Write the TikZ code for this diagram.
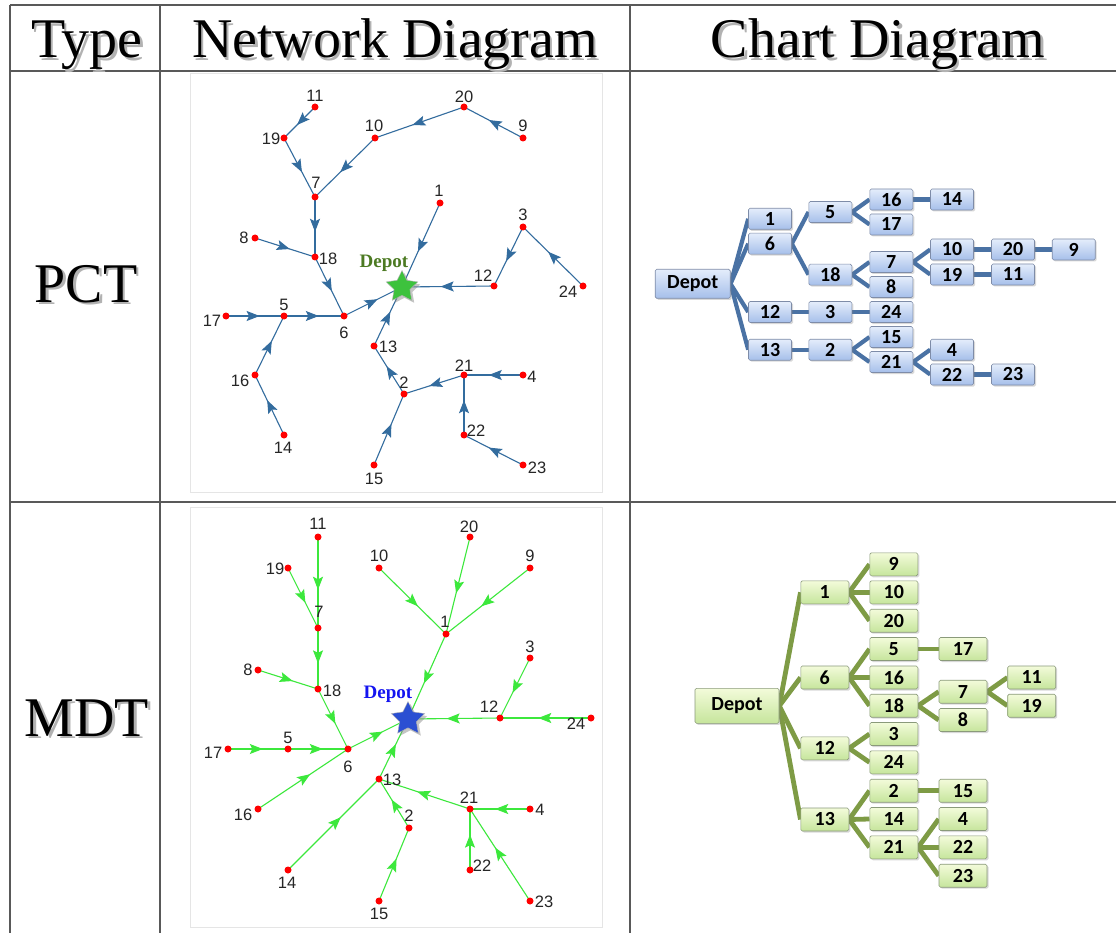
\documentclass[tikz,border=0pt]{standalone}
\usepackage{fontspec}
\setmainfont{Liberation Serif}
\newfontfamily\netfont{Liberation Sans}
\newfontfamily\boxfont{Carlito}
\usetikzlibrary{shapes.geometric,shadows,decorations.markings,arrows.meta,backgrounds}
\definecolor{pctline}{HTML}{336C9E}
\definecolor{mdtline}{HTML}{3CE83C}
\definecolor{pctconn}{HTML}{4A72A4}
\definecolor{mdtconn}{HTML}{7E9B45}
\definecolor{pboxtop}{HTML}{E4EDFB}
\definecolor{pboxbot}{HTML}{A6BFEA}
\definecolor{pboxborder}{HTML}{7E8CA8}
\definecolor{mboxtop}{HTML}{F3FBDA}
\definecolor{mboxbot}{HTML}{C6E59C}
\definecolor{mboxborder}{HTML}{8A9A7A}
\definecolor{pstarcol}{HTML}{3DC23D}
\definecolor{mstarcol}{HTML}{2B4FD2}
\definecolor{pdepotcol}{HTML}{4C7A22}
\definecolor{mdepotcol}{HTML}{1414F0}
\newcommand\shtext[1]{\makebox[0pt][l]{\kern2.5pt\raisebox{-2.5pt}{\textcolor{black!30}{#1}}}#1}
\begin{document}
\begin{tikzpicture}[x=1pt,y=-1pt,
  tbl/.style={line width=1.4pt, draw=black!65},
  panel/.style={draw=black!10, line width=0.8pt},
  hdr/.style={font=\fontsize{56}{60}\selectfont, inner sep=0pt},
  netdot/.style={circle, fill=red, inner sep=0pt, minimum size=7pt},
  netlbl/.style={font=\netfont\fontsize{16.5}{16.5}\selectfont, text=black!85, inner sep=0pt},
  pedge/.style={draw=pctline, line width=1.1pt, postaction={decorate},
    decoration={markings, mark=at position 0.58 with {\arrow[pctline]{Stealth[length=13pt,width=10pt,inset=2.5pt]}}}},
  medge/.style={draw=mdtline, line width=1.1pt, postaction={decorate},
    decoration={markings, mark=at position 0.58 with {\arrow[mdtline]{Stealth[length=13pt,width=10pt,inset=2.5pt]}}}},
  pbox/.style={draw=pboxborder, line width=0.6pt, rounded corners=1.5pt, top color=pboxtop, bottom color=pboxbot,
    minimum width=43pt, minimum height=21pt, inner sep=0pt, font=\boxfont\bfseries\fontsize{20}{20}\selectfont,
    drop shadow={shadow xshift=1.5pt, shadow yshift=-1.5pt, opacity=0.3}},
  mbox/.style={draw=mboxborder, line width=0.6pt, rounded corners=1.5pt, top color=mboxtop, bottom color=mboxbot,
    minimum width=48pt, minimum height=23pt, inner sep=0pt, font=\boxfont\bfseries\fontsize{20}{20}\selectfont,
    drop shadow={shadow xshift=1.5pt, shadow yshift=-1.5pt, opacity=0.3}},
  pline/.style={draw=pctconn, line width=4.2pt},
  mline/.style={draw=mdtconn, line width=4.8pt},
  depotlbl/.style={font=\bfseries\fontsize{19}{19}\selectfont, inner sep=0pt},
  starnode/.style={star, star points=5, star point ratio=2.0, inner sep=0pt, draw=white!70!black, line width=0.4pt,
    drop shadow={shadow xshift=2.5pt, shadow yshift=-2.5pt, opacity=0.45}}
]
\useasboundingbox (0,0) rectangle (1116,933);
\begin{pgfonlayer}{background}
\fill[white] (0,0) rectangle (1116,933);
\end{pgfonlayer}

% ---------- table ----------
\draw[tbl] (10,5) -- (1116,5);
\draw[tbl] (10,71) -- (1116,71);
\draw[tbl] (10,502) -- (1116,502);
\draw[tbl] (10,5) -- (10,933);
\draw[tbl] (160,5) -- (160,933);
\draw[tbl] (630,5) -- (630,933);

\node[hdr, anchor=base] (hType) at (87,58) {\shtext{Type}};
\node[hdr, anchor=base] (hNet) at (395,58) {\shtext{Network Diagram}};
\node[hdr, anchor=base] (hChart) at (878,58) {\shtext{Chart Diagram}};
\node[hdr, anchor=base] (hPCT) at (86,302) {\shtext{PCT}};
\node[hdr, anchor=base] (hMDT) at (87,736) {\shtext{MDT}};

% ---------- panels ----------
\draw[panel] (190,73) rectangle (602,492);
\draw[panel] (190,507) rectangle (602,927);

% ---------- PCT network ----------
\coordinate (pn0) at (402,287);
\coordinate (pn1) at (440,203);
\coordinate (pn2) at (404,394);
\coordinate (pn3) at (523,227);
\coordinate (pn4) at (523,375);
\coordinate (pn5) at (284,316);
\coordinate (pn6) at (344,316);
\coordinate (pn7) at (315,197);
\coordinate (pn8) at (255,238);
\coordinate (pn9) at (523,138);
\coordinate (pn10) at (375,138);
\coordinate (pn11) at (315,107);
\coordinate (pn12) at (494,286);
\coordinate (pn13) at (374,346);
\coordinate (pn14) at (284,435);
\coordinate (pn15) at (374,465);
\coordinate (pn16) at (255,375);
\coordinate (pn17) at (226,316);
\coordinate (pn18) at (315,257);
\coordinate (pn19) at (284,138);
\coordinate (pn20) at (464,107);
\coordinate (pn21) at (464,375);
\coordinate (pn22) at (464,435);
\coordinate (pn23) at (523,465);
\coordinate (pn24) at (583,286);

\foreach \a/\b in {11/19,19/7,9/20,20/10,10/7,7/18,8/18,18/6,1/0,3/12,24/3,12/0,17/5,5/6,6/0,16/5,14/16,13/0,2/13,21/2,4/21,22/21,23/22,15/2}
  \draw[pedge] (pn\a) -- (pn\b);
\foreach \n in {1,...,24}
  \node[netdot] (pd\n) at (pn\n) {};
\node[starnode, fill=pstarcol, minimum size=33pt] (pstar) at (pn0) {};
\node[depotlbl, text=pdepotcol] (pdepot) at (384,263) {Depot};

\node[netlbl] (pl11) at (315,96) {11};
\node[netlbl] (pl19) at (271,139) {19};
\node[netlbl] (pl10) at (374,126) {10};
\node[netlbl] (pl20) at (464,97) {20};
\node[netlbl] (pl9) at (523,126) {9};
\node[netlbl] (pl7) at (316,183) {7};
\node[netlbl] (pl1) at (439,191) {1};
\node[netlbl] (pl3) at (523,215) {3};
\node[netlbl] (pl8) at (244,238) {8};
\node[netlbl] (pl18) at (328,259) {18};
\node[netlbl] (pl12) at (483,276) {12};
\node[netlbl] (pl24) at (568,292) {24};
\node[netlbl] (pl17) at (212,321) {17};
\node[netlbl] (pl5) at (284,305) {5};
\node[netlbl] (pl6) at (344,333) {6};
\node[netlbl] (pl13) at (388,347) {13};
\node[netlbl] (pl16) at (240,381) {16};
\node[netlbl] (pl21) at (464,366) {21};
\node[netlbl] (pl4) at (532,377) {4};
\node[netlbl] (pl2) at (404,383) {2};
\node[netlbl] (pl14) at (283,448) {14};
\node[netlbl] (pl22) at (476,431) {22};
\node[netlbl] (pl15) at (374,479) {15};
\node[netlbl] (pl23) at (537,468) {23};

% ---------- MDT network ----------
\coordinate (mn0) at (408,719);
\coordinate (mn1) at (446,634);
\coordinate (mn2) at (409,828);
\coordinate (mn3) at (530,658);
\coordinate (mn4) at (530,809);
\coordinate (mn5) at (288,749);
\coordinate (mn6) at (348,749);
\coordinate (mn7) at (318,628);
\coordinate (mn8) at (258,670);
\coordinate (mn9) at (530,568);
\coordinate (mn10) at (379,568);
\coordinate (mn11) at (318,537);
\coordinate (mn12) at (500,718);
\coordinate (mn13) at (379,779);
\coordinate (mn14) at (288,870);
\coordinate (mn15) at (379,901);
\coordinate (mn16) at (258,809);
\coordinate (mn17) at (228,749);
\coordinate (mn18) at (318,689);
\coordinate (mn19) at (288,568);
\coordinate (mn20) at (470,537);
\coordinate (mn21) at (470,809);
\coordinate (mn22) at (470,870);
\coordinate (mn23) at (530,901);
\coordinate (mn24) at (591,718);

\foreach \a/\b in {11/7,19/7,7/18,8/18,18/6,17/5,5/6,6/0,16/6,10/1,20/1,9/1,1/0,3/12,24/12,12/0,13/0,14/13,2/13,15/2,21/13,4/21,22/21,23/21}
  \draw[medge] (mn\a) -- (mn\b);
\foreach \n in {1,...,24}
  \node[netdot] (md\n) at (mn\n) {};
\node[starnode, fill=mstarcol, minimum size=35pt] (mstar) at (mn0) {};
\node[depotlbl, text=mdepotcol] (mdepot) at (388,694) {Depot};

\node[netlbl] (ml11) at (318,524) {11};
\node[netlbl] (ml20) at (469,527) {20};
\node[netlbl] (ml10) at (379,556) {10};
\node[netlbl] (ml9) at (530,556) {9};
\node[netlbl] (ml19) at (275,569) {19};
\node[netlbl] (ml7) at (319,612) {7};
\node[netlbl] (ml1) at (445,622) {1};
\node[netlbl] (ml3) at (530,647) {3};
\node[netlbl] (ml8) at (248,670) {8};
\node[netlbl] (ml18) at (332,691) {18};
\node[netlbl] (ml12) at (489,707) {12};
\node[netlbl] (ml24) at (576,724) {24};
\node[netlbl] (ml17) at (213,753) {17};
\node[netlbl] (ml5) at (288,738) {5};
\node[netlbl] (ml6) at (348,767) {6};
\node[netlbl] (ml13) at (392,780) {13};
\node[netlbl] (ml21) at (469,798) {21};
\node[netlbl] (ml4) at (540,810) {4};
\node[netlbl] (ml16) at (243,815) {16};
\node[netlbl] (ml2) at (409,816) {2};
\node[netlbl] (ml14) at (287,883) {14};
\node[netlbl] (ml22) at (482,866) {22};
\node[netlbl] (ml15) at (379,914) {15};
\node[netlbl] (ml23) at (544,902) {23};

% ---------- PCT chart ----------
\node[pbox, minimum width=75pt, minimum height=29pt] (pcD) at (692.7,283.8) {Depot};
\node[pbox] (pc1) at (770,218.8) {1};
\node[pbox] (pc6) at (770,243.7) {6};
\node[pbox] (pc12) at (770,312) {12};
\node[pbox] (pc13) at (770,349.7) {13};
\node[pbox] (pc5) at (830.3,212) {5};
\node[pbox] (pc18) at (830.3,274.7) {18};
\node[pbox] (pc3) at (830.3,312) {3};
\node[pbox] (pc2) at (830.3,349.7) {2};
\node[pbox] (pc16) at (891.3,199.5) {16};
\node[pbox] (pc17) at (891.3,224.5) {17};
\node[pbox] (pc7) at (891.3,262) {7};
\node[pbox] (pc8) at (891.3,287) {8};
\node[pbox] (pc24) at (891.3,312) {24};
\node[pbox] (pc15) at (891.3,337) {15};
\node[pbox] (pc21) at (891.3,362) {21};
\node[pbox] (pc14) at (952,199.5) {14};
\node[pbox] (pc10) at (952,249.5) {10};
\node[pbox] (pc19) at (952,274.5) {19};
\node[pbox] (pc4) at (952,349.7) {4};
\node[pbox] (pc22) at (952,374.5) {22};
\node[pbox] (pc20) at (1013,249.5) {20};
\node[pbox] (pc11) at (1013,274.5) {11};
\node[pbox] (pc23) at (1013,374.5) {23};
\node[pbox] (pc9) at (1073.7,249.5) {9};
\begin{pgfonlayer}{background}
\foreach \a/\b in {D/1,D/6,D/12,D/13,6/5,6/18,5/16,5/17,16/14,18/7,18/8,7/10,7/19,10/20,20/9,19/11,12/3,3/24,13/2,2/15,2/21,21/4,21/22,22/23}
  \draw[pline] (pc\a.east) -- (pc\b.west);
\end{pgfonlayer}

% ---------- MDT chart ----------
\node[mbox, minimum width=84pt, minimum height=35pt] (mcD) at (737,705.8) {Depot};
\node[mbox] (mc1) at (824.8,592.3) {1};
\node[mbox] (mc6) at (824.8,677.5) {6};
\node[mbox] (mc12) at (824.8,748.3) {12};
\node[mbox] (mc13) at (824.8,819.5) {13};
\node[mbox] (mc9) at (893.8,564.3) {9};
\node[mbox] (mc10) at (893.8,592.3) {10};
\node[mbox] (mc20) at (893.8,620.7) {20};
\node[mbox] (mc5) at (893.8,649) {5};
\node[mbox] (mc16) at (893.8,677.5) {16};
\node[mbox] (mc18) at (893.8,705.7) {18};
\node[mbox] (mc3) at (893.8,734) {3};
\node[mbox] (mc24) at (893.8,762.3) {24};
\node[mbox] (mc2) at (893.8,790.7) {2};
\node[mbox] (mc14) at (893.8,819) {14};
\node[mbox] (mc21) at (893.8,847.3) {21};
\node[mbox] (mc17) at (963,649) {17};
\node[mbox] (mc7) at (963,691.7) {7};
\node[mbox] (mc8) at (963,720) {8};
\node[mbox] (mc15) at (963,790.7) {15};
\node[mbox] (mc4) at (963,819) {4};
\node[mbox] (mc22) at (963,847.3) {22};
\node[mbox] (mc23) at (963,875.7) {23};
\node[mbox] (mc11) at (1031.7,677.5) {11};
\node[mbox] (mc19) at (1031.7,705.7) {19};
\begin{pgfonlayer}{background}
\foreach \a/\b in {D/1,D/6,D/12,D/13,1/9,1/10,1/20,6/5,6/16,6/18,5/17,18/7,18/8,7/11,7/19,12/3,12/24,13/2,13/14,13/21,2/15,21/4,21/22,21/23}
  \draw[mline] (mc\a.east) -- (mc\b.west);
\end{pgfonlayer}
\end{tikzpicture}
\end{document}
